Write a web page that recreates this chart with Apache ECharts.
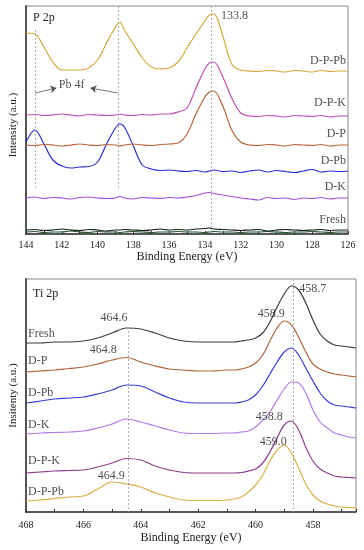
<!DOCTYPE html>
<html>
<head>
<meta charset="utf-8">
<script src="https://cdn.jsdelivr.net/npm/echarts@6/dist/echarts.min.js"></script>
<style>html,body{margin:0;padding:0;background:#fff}#c{width:364px;height:550px}</style>
</head>
<body>
<div id="c"></div>
<script>
// ---------- Top panel: P 2p ----------
const topEnergy = [144,143.5,143,142.5,142,141.5,141,140.5,140,139.5,139,138.75,138.5,138,137.5,137,136.5,136,135.5,135,134.5,134,133.75,133.5,133,132.5,132,131.5,131,130.5,130,129.5,129,128.5,128,127.5,127,126.5,126];
const topFresh = [4,4.5,3.5,4,5,4,3.5,4.5,4,3,4,4,4.5,4,3.5,4,5,4,4.5,4,5,5.5,6,5,4.5,4,3.5,4,4.5,3,4,4.5,4,3.5,4,4.5,3.5,4,4];
const topFreshFit = [2,2.5,1.5,2,2,3,2,1.5,2.5,2,2,1.5,2,2.5,2,1.5,2,2,2.5,2,2,1.5,2,2.5,2,2,1.5,2,2,2.5,2,1.5,2,2,2.5,2,1.5,2,2];
const topDK = [36,37,35.5,36.5,36,35,36.5,37,36,35.5,36,37.5,36,35,36.5,36,35.5,36.5,36,37,38.5,41,41.5,40.5,39,37.5,36,35,34,36.5,35.5,36,34.5,36,35.5,36.5,35,36,36];
const topDPb = [92,104,90,74,68,66,67,67.5,72,90,106,110,107,88,69,65,63.5,64,63,62.5,63.5,62,63,64,62.5,63,61.5,63,64,62,63.5,62.5,61.5,63,64.5,62,63,62.5,63];
const topDP = [89,88.5,89.5,89,88,89,90,89,88.5,89.5,89,88,89,90,89,88.5,89.5,90,91,100,120,137,142,143,128,104,92,89,88.5,89.5,89,88,89.5,89,88.5,89.5,88,89,89];
const topDPK = [119,119.5,118.5,119,120,119,118,119.5,119,118.5,119,120,119,118.5,119.5,119,120,120,122,126,146,165,171,172,157,136,121,118,117.5,118.5,118,117,118.5,118,117.5,118.5,117,118,118];
const topDPPb = [201,200,187,172,164,164,164,166,174,191,207,212,204,190,176,167,165,166,172,186,200,213,219,220,198,170,164,163,162.5,163.5,163,162,163.5,163,162,163.5,162.5,163,163];
const topTicks = [126,128,130,132,134,136,138,140,142,144];

// ---------- Bottom panel: Ti 2p ----------
const botEnergy = [468,467.5,467,466.5,466,465.5,465,464.5,464,463.5,463,462.5,462,461.5,461,460.75,460.5,460.25,460,459.75,459.5,459.25,459,458.75,458.5,458.25,458,457.75,457.5,457.25,457,456.75,456.5];
const botFresh = [169,169,170,170,171,174,179,184,183,179,174,171,170,170,170,170,171,172,174,179,190,205,218,226,222,209,192,178,171,167,166,165,164];
const botDP = [140,141,142,143.5,145,148,152,154.5,150,146,143,142,141,141,142,142,143,145,149,157,171,184,191,187,175,160,148,143,140,138,137,136,135];
const botDPb = [109,111,113,114,115,118,122,127,126,120,114,110,109,109,109,109,110,112,117,126,138,150,160,164,157,144,131,119,111,107,106,105,104];
const botDK = [78,79,79.5,80,81,84,88,93,90,86,82,79,78.5,78.5,79,79,80,81,85,92,100,112,123,130,129,119,102,90,84,79,77,75,74];
const botDPK = [39,40,41,41.5,42,45,49,53.5,52,46,42,39.5,39,39,39,39,39.5,41,43,49,60,74,87,91,82,65,51,43,39,36,35,34.5,34];
const botDPPb = [11,12,13.5,15,16,23,30,28,25,19,15,12,11.5,11.5,12,13,15,20,27,37,51,62,67,59,44,28,17,11,8,6,5,4.5,4];
const botTicks = [458,460,462,464,466,468];

// ---------- annotations ----------
const topNames = ['D-P-Pb','D-P-K','D-P','D-Pb','D-K','Fresh'];
const topNameAt = [[126,173],[126,131],[126,100],[126,73],[126,47],[126,14]];
const botNames = ['Fresh','D-P','D-Pb','D-K','D-P-K','D-P-Pb'];
const botNameAt = [[468,178],[468,151],[468,119],[468,87],[468,51],[468,20]];
const botPeakText = ['464.6','464.8','458.9','458.8','459.0','464.9'];
const botPeakAt = [[464.93,194],[465.31,162],[459.45,198],[459.52,95],[459.38,70],[465.03,36]];

const FF = 'Liberation Serif';
const pair = (xs, ys) => xs.map((x, i) => [x, ys[i]]);
const chart = echarts.init(document.getElementById('c'), null, {renderer: 'canvas'});

function lineSeries(name, xi, xs, ys, color, extra) {
  return Object.assign({
    name, type: 'line', xAxisIndex: xi, yAxisIndex: xi,
    data: pair(xs, ys), showSymbol: false, symbol: 'none',
    smooth: 0.35, lineStyle: {color, width: 1.2}, itemStyle: {color},
    silent: true, z: 3
  }, extra || {});
}
const dotted = {color: '#999', type: [2, 2], width: 0.8};

const option = {
  animation: false,
  backgroundColor: '#fff',
  title: [
    {text: 'P 2p', left: 28, top: 7, textStyle: {fontFamily: FF, fontSize: 12, fontWeight: 'normal', color: '#222'}},
    {text: 'Ti 2p', left: 28, top: 283, textStyle: {fontFamily: FF, fontSize: 12, fontWeight: 'normal', color: '#222'}}
  ],
  grid: [
    {left: 24, top: 6, width: 324, height: 228, show: true, borderColor: '#8c8c8c', borderWidth: 1},
    {left: 24, top: 279, width: 332, height: 233, show: true, borderColor: '#8c8c8c', borderWidth: 1}
  ],
  xAxis: [
    {gridIndex: 0, type: 'value', min: topTicks[0], max: topTicks[topTicks.length - 1], interval: 2, inverse: true,
     axisLine: {show: true, onZero: false, lineStyle: {color: '#333', width: 1.5}},
     axisTick: {show: true, inside: true, length: 3, lineStyle: {color: '#333'}},
     minorTick: {show: true, splitNumber: 2, length: 3, lineStyle: {color: '#333'}},
     splitLine: {show: false},
     axisLabel: {fontFamily: FF, fontSize: 10, color: '#222', margin: 6},
     name: 'Binding Energy (eV)', nameLocation: 'middle', nameGap: 17,
     nameTextStyle: {fontFamily: FF, fontSize: 12, color: '#222'}},
    {gridIndex: 1, type: 'value', min: 456.5, max: botTicks[botTicks.length - 1], splitNumber: 5, inverse: true,
     axisLine: {show: true, onZero: false, lineStyle: {color: '#333', width: 1.5}},
     axisTick: {show: true, inside: true, length: 3, lineStyle: {color: '#333'}},
     minorTick: {show: true, splitNumber: 2, length: 3, lineStyle: {color: '#333'}},
     splitLine: {show: false},
     axisLabel: {fontFamily: FF, fontSize: 10, color: '#222', margin: 8, showMinLabel: false},
     name: 'Binding Energy (eV)', nameLocation: 'middle', nameGap: 20,
     nameTextStyle: {fontFamily: FF, fontSize: 12, color: '#222'}}
  ],
  yAxis: [
    {gridIndex: 0, type: 'value', min: 0, max: 228,
     axisLine: {show: true, onZero: false, lineStyle: {color: '#555', width: 2}},
     axisTick: {show: false}, axisLabel: {show: false}, splitLine: {show: false},
     name: 'Intensity (a.u.)', nameLocation: 'middle', nameGap: 7,
     nameTextStyle: {fontFamily: FF, fontSize: 11, color: '#222', padding: [0, 10, 0, 0]}},
    {gridIndex: 1, type: 'value', min: 0, max: 233,
     axisLine: {show: true, onZero: false, lineStyle: {color: '#555', width: 2}},
     axisTick: {show: false}, axisLabel: {show: false}, splitLine: {show: false},
     name: 'Insitenty (a.u.)', nameLocation: 'middle', nameGap: 7,
     nameTextStyle: {fontFamily: FF, fontSize: 11, color: '#222'}}
  ],
  series: [
    // top panel curves
    lineSeries('Fresh fit', 0, topEnergy, topFreshFit, '#1e5a2c'),
    lineSeries('Fresh', 0, topEnergy, topFresh, '#1a1a1a', {
      markLine: {silent: true, symbol: 'none', lineStyle: dotted, label: {show: false}, animation: false,
        data: [
          [{coord: [143.5, 204]}, {coord: [143.5, 44]}],
          [{coord: [138.85, 228]}, {coord: [138.85, 44]}],
          [{coord: [133.65, 228]}, {coord: [133.65, 2]}]
        ]}
    }),
    lineSeries('D-K', 0, topEnergy, topDK, '#a24fe0'),
    lineSeries('D-Pb', 0, topEnergy, topDPb, '#2e2ed2'),
    lineSeries('D-P', 0, topEnergy, topDP, '#b9623b', {
      markLine: {silent: true, symbol: ['none', 'arrow'], symbolSize: 6, label: {show: false}, animation: false,
        lineStyle: {color: '#555', type: 'solid', width: 0.8},
        data: [
          [{coord: [143.5, 141]}, {coord: [142.3, 146]}],
          [{coord: [138.85, 141]}, {coord: [140.4, 146]}]
        ]}
    }),
    lineSeries('D-P-K', 0, topEnergy, topDPK, '#c24fb4'),
    lineSeries('D-P-Pb', 0, topEnergy, topDPPb, '#d6aa3c'),
    {type: 'scatter', xAxisIndex: 0, yAxisIndex: 0, symbolSize: 0, silent: true, z: 5,
     data: topNameAt.map((p, i) => ({value: p, name: topNames[i]}))
       .concat([{value: [133.1, 218], name: '133.8', label: {position: 'right', distance: 0}},
                {value: [141.45, 149], name: 'Pb 4f', label: {position: 'inside'}}]),
     label: {show: true, position: 'left', distance: 2, formatter: p => p.name,
             fontFamily: FF, fontSize: 12, color: '#222'}},
    // bottom panel curves
    lineSeries('Fresh', 1, botEnergy, botFresh, '#3c3c3c', {
      markLine: {silent: true, symbol: 'none', lineStyle: dotted, label: {show: false}, animation: false,
        data: [
          [{coord: [464.45, 185]}, {coord: [464.45, 0]}],
          [{coord: [458.7, 233]}, {coord: [458.7, 0]}]
        ]}
    }),
    lineSeries('D-P', 1, botEnergy, botDP, '#b3623d'),
    lineSeries('D-Pb', 1, botEnergy, botDPb, '#3c3cd8'),
    lineSeries('D-K', 1, botEnergy, botDK, '#b07ae8'),
    lineSeries('D-P-K', 1, botEnergy, botDPK, '#8e3e8e'),
    lineSeries('D-P-Pb', 1, botEnergy, botDPPb, '#d9b043'),
    {type: 'scatter', xAxisIndex: 1, yAxisIndex: 1, symbolSize: 0, silent: true, z: 5,
     data: botNameAt.map((p, i) => ({value: p, name: botNames[i]}))
       .concat(botPeakAt.map((p, i) => ({value: p, name: botPeakText[i], label: {position: 'inside'}})))
       .concat([{value: [458.48, 223], name: '458.7', label: {position: 'right', distance: 0}}]),
     label: {show: true, position: 'right', distance: 2, formatter: p => p.name,
             fontFamily: FF, fontSize: 12, color: '#222'}}
  ]
};
chart.setOption(option);
</script>
</body>
</html>
